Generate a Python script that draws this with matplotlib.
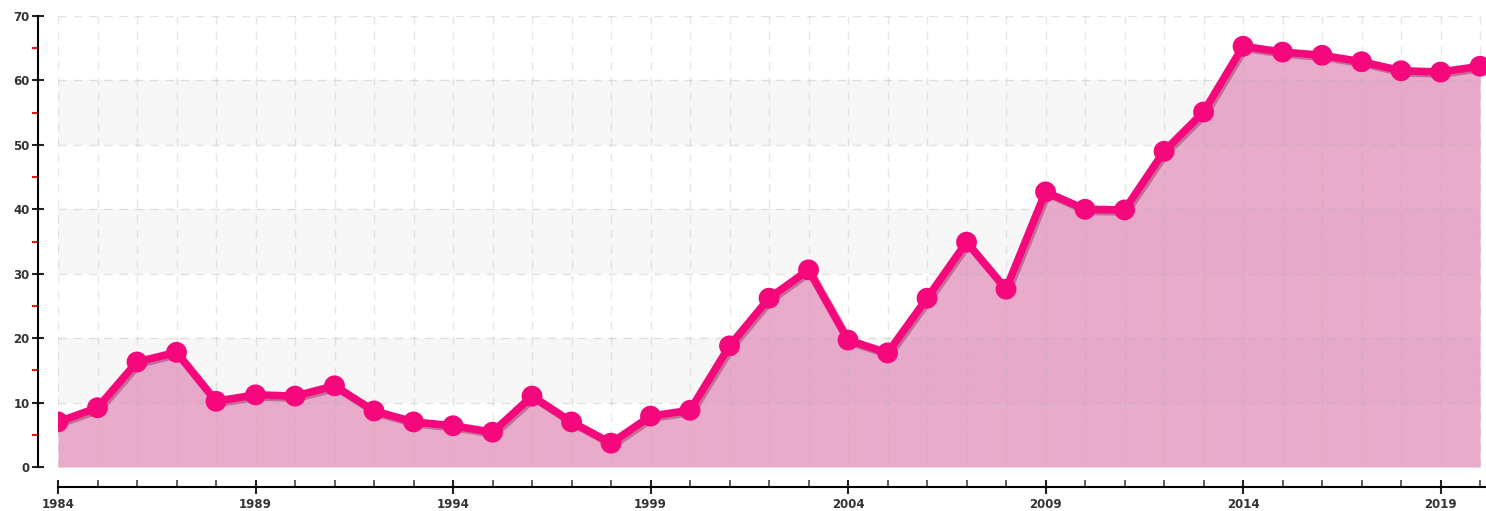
import matplotlib.pyplot as plt
import matplotlib.patheffects as pe
import numpy as np

years = list(range(1984, 2021))
values = [7.0, 9.2, 16.3, 17.8, 10.2, 11.2, 11.0, 12.6, 8.7, 7.0,
          6.4, 5.4, 11.0, 7.0, 3.7, 7.9, 8.8, 18.8, 26.2, 30.6,
          19.7, 17.7, 26.2, 34.9, 27.6, 42.7, 40.0, 39.9, 49.0, 55.1,
          65.3, 64.4, 63.9, 62.9, 61.5, 61.3, 62.2]
bands = [(10, 20), (30, 40), (50, 60)]
xmajor = [1984, 1989, 1994, 1999, 2004, 2009, 2014, 2019]

W, H = 1486, 511
fig = plt.figure(figsize=(W/100, H/100), dpi=100)
ax = fig.add_axes([58/W, 44/H, (W-58)/W, (467-16)/H])

ax.set_xlim(1984, 2020.15)
ax.set_ylim(0, 70)

for lo, hi in bands:
    ax.fill_between([1984, 2020], lo, hi, color='#f7f7f7', zorder=0, lw=0)

ax.fill_between(years, 0, values, color='#e49cc1', alpha=0.85, lw=0, zorder=1)

# grid shows through the fill
for y in range(10, 71, 10):
    ax.plot([1984, 2020], [y, y], color='#b0b0b0', alpha=0.35, lw=1, ls=(0, (6, 5)), zorder=2)
for x in years:
    ax.axvline(x, color='#b0b0b0', alpha=0.3, lw=1, ls=(0, (6, 5)), zorder=2)

ax.plot(years, values, color='#f5087c', lw=5.5, marker='o', markersize=15,
        markeredgewidth=0, solid_joinstyle='round', zorder=3,
        path_effects=[pe.SimpleLineShadow(offset=(1.5, -1.5), shadow_color='#7a0040', alpha=0.35), pe.Normal()])

for s in ['top', 'right']:
    ax.spines[s].set_visible(False)
ax.spines['left'].set_position(('outward', 14.4))
ax.spines['bottom'].set_position(('outward', 14.4))
ax.spines['left'].set_linewidth(1.5)
ax.spines['bottom'].set_linewidth(1.5)
ax.spines['left'].set_bounds(0, 70)

ax.set_yticks(range(0, 71, 10))
ax.set_yticks(range(5, 70, 10), minor=True)
ax.set_xticks(xmajor)
ax.set_xticks(years, minor=True)
ax.tick_params(axis='y', which='major', direction='inout', length=8, width=1.5, color='#222222',
               labelsize=8.5, labelcolor='#333333', pad=2)
ax.tick_params(axis='y', which='minor', direction='out', length=4, width=1.5, color='#ff1010')
ax.tick_params(axis='x', which='major', direction='inout', length=10, width=1.5, color='#222222',
               labelsize=8.5, labelcolor='#333333', pad=3)
ax.tick_params(axis='x', which='minor', direction='in', length=5, width=1.2, color='#444444')
for lab in ax.get_xticklabels() + ax.get_yticklabels():
    lab.set_fontweight('bold')

fig.savefig('out.png', dpi=100)
